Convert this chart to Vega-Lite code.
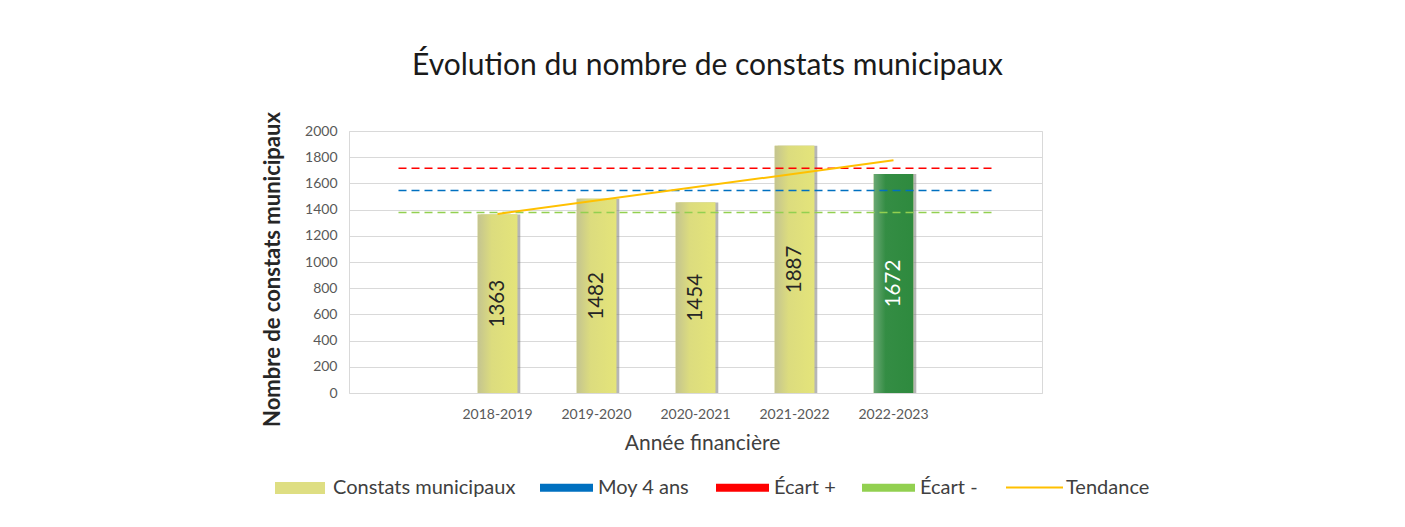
{
  "$schema": "https://vega.github.io/schema/vega-lite/v6.json",
  "width": 693,
  "height": 262,
  "autosize": "none",
  "padding": {"left": 349, "top": 131, "right": 363, "bottom": 134},
  "background": "white",
  "title": {
    "text": "Évolution du nombre de constats municipaux",
    "font": "Lato",
    "fontSize": 30,
    "fontWeight": "normal",
    "color": "#1a1a1a",
    "anchor": "middle",
    "dx": 12,
    "offset": 31
  },
  "config": {
    "font": "Lato",
    "view": {"stroke": "#d9d9d9", "strokeWidth": 1},
    "axis": {"labelFont": "Lato", "titleFont": "Lato"},
    "legend": {
      "orient": "none",
      "direction": "horizontal",
      "title": null,
      "padding": 0,
      "symbolType": "stroke",
      "labelFont": "Lato",
      "labelFontSize": 20,
      "labelLimit": 400,
      "labelColor": "#404040",
      "labelOffset": 2,
      "columnPadding": 7
    }
  },
  "resolve": {"scale": {"color": "independent"}},
  "datasets": {
    "barres": [
      {"annee": "2018-2019", "valeur": 1363, "serie": "Constats municipaux", "courante": false},
      {"annee": "2019-2020", "valeur": 1482, "serie": "Constats municipaux", "courante": false},
      {"annee": "2020-2021", "valeur": 1454, "serie": "Constats municipaux", "courante": false},
      {"annee": "2021-2022", "valeur": 1887, "serie": "Constats municipaux", "courante": false},
      {"annee": "2022-2023", "valeur": 1672, "serie": "Constats municipaux", "courante": true}
    ],
    "references": [
      {"serie": "Écart +", "annee": "debut", "valeur": 1715},
      {"serie": "Écart +", "annee": "fin", "valeur": 1715},
      {"serie": "Moy 4 ans", "annee": "debut", "valeur": 1546},
      {"serie": "Moy 4 ans", "annee": "fin", "valeur": 1546},
      {"serie": "Écart -", "annee": "debut", "valeur": 1378},
      {"serie": "Écart -", "annee": "fin", "valeur": 1378}
    ],
    "tendance": [
      {"serie": "Tendance", "annee": "2018-2019", "valeur": 1367},
      {"serie": "Tendance", "annee": "2022-2023", "valeur": 1776}
    ]
  },
  "encoding": {
    "x": {
      "field": "annee",
      "type": "nominal",
      "sort": null,
      "scale": {
        "domain": ["debut", "2018-2019", "2019-2020", "2020-2021", "2021-2022", "2022-2023", "fin"],
        "paddingInner": 0,
        "paddingOuter": 0
      },
      "axis": {
        "title": "Année financière",
        "titleFontSize": 21,
        "titleFontWeight": "normal",
        "titleColor": "#404040",
        "titlePadding": 11,
        "titleX": 353,
        "labelExpr": "datum.value == 'debut' || datum.value == 'fin' ? '' : datum.label",
        "labelAngle": 0,
        "labelFontSize": 14,
        "labelColor": "#595959",
        "labelPadding": 14,
        "ticks": false,
        "domain": false,
        "grid": false
      }
    },
    "y": {
      "field": "valeur",
      "type": "quantitative",
      "scale": {"domain": [0, 2000], "nice": false},
      "axis": {
        "title": "Nombre de constats municipaux",
        "titleFontSize": 22,
        "titleFontWeight": "bold",
        "titleColor": "#262626",
        "titlePadding": 20,
        "titleY": 138,
        "format": "d",
        "values": [0, 200, 400, 600, 800, 1000, 1200, 1400, 1600, 1800, 2000],
        "labelFontSize": 14,
        "labelColor": "#595959",
        "labelPadding": 12,
        "ticks": false,
        "domain": false,
        "grid": true,
        "gridColor": "#d9d9d9",
        "gridWidth": 1
      }
    }
  },
  "layer": [
    {
      "data": {"name": "barres"},
      "mark": {"type": "bar", "width": {"band": 0.4}, "xOffset": 3, "fill": "#7a7a7a", "opacity": 0.55}
    },
    {
      "data": {"name": "barres"},
      "mark": {"type": "bar", "width": {"band": 0.4}},
      "encoding": {
        "color": {
          "field": "serie",
          "type": "nominal",
          "scale": {"domain": ["Constats municipaux"], "range": ["#dede82"]},
          "legend": {
            "legendX": -80,
            "legendY": 326,
            "symbolSize": 2500,
            "symbolStrokeWidth": 12,
            "symbolStrokeColor": "#dede82",
            "labelOffset": 2
          }
        }
      }
    },
    {
      "data": {"name": "barres"},
      "transform": [{"filter": "!datum.courante"}],
      "mark": {
        "type": "bar",
        "width": {"band": 0.4},
        "fill": {
          "gradient": "linear", "x1": 0, "x2": 1, "y1": 0, "y2": 0,
          "stops": [
            {"offset": 0, "color": "#c4c490"},
            {"offset": 0.35, "color": "#dcdc7e"},
            {"offset": 1, "color": "#e4e47a"}
          ]
        }
      }
    },
    {
      "data": {"name": "barres"},
      "transform": [{"filter": "datum.courante"}],
      "mark": {
        "type": "bar",
        "width": {"band": 0.4},
        "fill": {
          "gradient": "linear", "x1": 0, "x2": 1, "y1": 0, "y2": 0,
          "stops": [
            {"offset": 0, "color": "#6aa874"},
            {"offset": 0.3, "color": "#348d44"},
            {"offset": 1, "color": "#2e8a3e"}
          ]
        }
      }
    },
    {
      "data": {"name": "references"},
      "mark": {"type": "line", "strokeWidth": 1.5},
      "encoding": {
        "color": {
          "field": "serie",
          "type": "nominal",
          "scale": {"domain": ["Moy 4 ans", "Écart +", "Écart -"], "range": ["#0070c0", "#ff0000", "#92d050"]},
          "legend": {
            "legendX": 187,
            "legendY": 326,
            "symbolSize": 2809,
            "symbolStrokeWidth": 8,
            "symbolDash": [],
            "labelOffset": 1,
            "columnPadding": 10
          }
        },
        "strokeDash": {
          "field": "serie",
          "type": "nominal",
          "scale": {"domain": ["Moy 4 ans", "Écart +", "Écart -"], "range": [[8, 5], [8, 5], [8, 5]]},
          "legend": null
        }
      }
    },
    {
      "data": {"name": "tendance"},
      "mark": {"type": "line", "strokeWidth": 2},
      "encoding": {
        "color": {
          "field": "serie",
          "type": "nominal",
          "scale": {"domain": ["Tendance"], "range": ["#ffc000"]},
          "legend": {
            "legendX": 656,
            "legendY": 327,
            "symbolSize": 3249,
            "symbolStrokeWidth": 2,
            "labelOffset": 2
          }
        }
      }
    },
    {
      "data": {"name": "barres"},
      "transform": [{"calculate": "datum.valeur / 2", "as": "milieu"}],
      "mark": {"type": "text", "angle": 270, "font": "Lato", "fontSize": 20.5, "align": "center", "baseline": "middle"},
      "encoding": {
        "y": {"field": "milieu", "type": "quantitative"},
        "text": {"field": "valeur", "type": "quantitative"},
        "color": {
          "condition": {"test": "datum.courante", "value": "#ffffff"},
          "value": "#262626"
        }
      }
    }
  ]
}
